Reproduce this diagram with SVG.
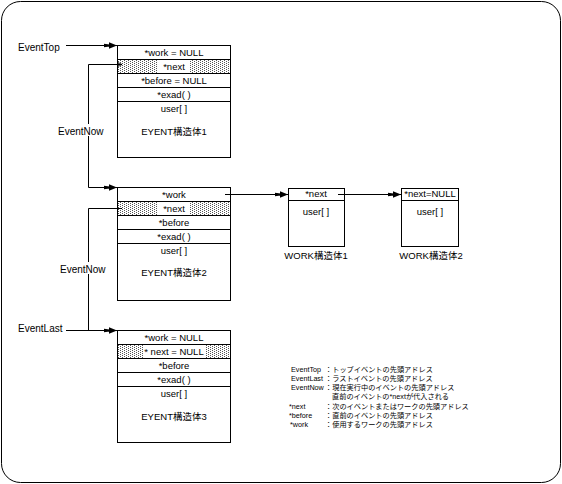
<svg xmlns="http://www.w3.org/2000/svg" width="562" height="484" viewBox="0 0 562 484">
<style>
text{font-family:"Liberation Sans","Noto Sans CJK JP",sans-serif;fill:#000}
.b{font-size:9.5px;text-anchor:middle}
.l{font-size:10px}
.g{font-size:7.2px}
.box{fill:#fff;stroke:#000;stroke-width:1}
.ln{fill:none;stroke:#000;stroke-width:1}
.hat{fill:url(#dots);stroke:#000;stroke-width:1}
.wb{fill:#fff}
</style>
<defs>
<pattern id="dots" width="4" height="2" patternUnits="userSpaceOnUse">
<rect width="4" height="2" fill="#fff"/>
<rect x="0" y="0" width="1" height="1" fill="#555"/>
<rect x="2" y="1" width="1" height="1" fill="#555"/>
</pattern>
<marker id="ah" markerUnits="userSpaceOnUse" markerWidth="14" markerHeight="8" viewBox="0 0 14 8" refX="13" refY="4" orient="auto">
<path d="M0,2.2 L13,4 L0,5.8 Z M5,0.8 L13,4 L5,7.2 Z" fill="#000"/>
</marker>
<marker id="sa" markerUnits="userSpaceOnUse" markerWidth="6" markerHeight="6" viewBox="0 0 6 6" refX="5" refY="3" orient="auto">
<path d="M1,1 L5,3 L1,5" fill="none" stroke="#000" stroke-width="0.8"/>
</marker>
</defs>
<rect x="1.5" y="1.5" width="559" height="481" rx="19" fill="#fff" stroke="#000" stroke-width="1"/>

<g id="event1">
<rect class="box" x="117.5" y="45.5" width="113" height="112"/>
<rect class="hat" x="117.5" y="59.5" width="113" height="14"/>
<rect class="wb" x="158" y="60" width="32" height="13"/>
<path class="ln" d="M117.5,87.5 H230.5 M117.5,101.5 H230.5"/>
<text class="b" x="174" y="56">*work = NULL</text>
<text class="b" x="174" y="70">*next</text>
<text class="b" x="174" y="84">*before = NULL</text>
<text class="b" x="174" y="98">*exad( )</text>
<text class="b" x="174" y="112">user[ ]</text>
<text class="b" x="174" y="135">EYENT構造体1</text>
</g>

<g id="event2">
<rect class="box" x="117.5" y="187.5" width="113" height="113"/>
<rect class="hat" x="117.5" y="201.5" width="113" height="14"/>
<rect class="wb" x="158" y="202" width="32" height="13"/>
<path class="ln" d="M117.5,229.5 H230.5 M117.5,243.5 H230.5"/>
<text class="b" x="174" y="198">*work</text>
<text class="b" x="174" y="212">*next</text>
<text class="b" x="174" y="226">*before</text>
<text class="b" x="174" y="240">*exad( )</text>
<text class="b" x="174" y="254">user[ ]</text>
<text class="b" x="174" y="276">EYENT構造体2</text>
</g>

<g id="event3">
<rect class="box" x="117.5" y="330.5" width="113" height="112"/>
<rect class="hat" x="117.5" y="344.5" width="113" height="14"/>
<rect class="wb" x="143" y="345" width="62" height="13"/>
<path class="ln" d="M117.5,372.5 H230.5 M117.5,386.5 H230.5"/>
<text class="b" x="174" y="341">*work = NULL</text>
<text class="b" x="174" y="355">* next  = NULL</text>
<text class="b" x="174" y="369">*before</text>
<text class="b" x="174" y="383">*exad( )</text>
<text class="b" x="174" y="397">user[ ]</text>
<text class="b" x="174" y="420">EYENT構造体3</text>
</g>

<g id="work1">
<rect class="box" x="288.5" y="188.5" width="56" height="58"/>
<path class="ln" d="M288.5,200.5 H344.5"/>
<text class="b" x="316" y="197">*next</text>
<text class="b" x="316" y="215">user[ ]</text>
<text class="b" x="316" y="259">WORK構造体1</text>
</g>

<g id="work2">
<rect class="box" x="401.5" y="188.5" width="57" height="58"/>
<path class="ln" d="M401.5,200.5 H458.5"/>
<text class="b" x="430" y="197">*next=NULL</text>
<text class="b" x="430" y="215">user[ ]</text>
<text class="b" x="431" y="259">WORK構造体2</text>
</g>

<g id="EventTop"><text class="l" x="18" y="51">EventTop</text></g>
<g id="EventLast"><text class="l" x="18" y="332">EventLast</text></g>

<g id="connectors">
<path class="ln" d="M66,45.5 H117" marker-end="url(#ah)"/>
<path class="ln" d="M66,330.5 H117" marker-end="url(#ah)"/>
<path class="ln" d="M88.5,187.5 V64.5 H122" marker-end="url(#sa)"/>
<path class="ln" d="M88.5,187.5 H117" marker-end="url(#ah)"/>
<path class="ln" d="M122,208.5 H88.5 V330.5"/>
<path class="ln" d="M225,194.5 H288" marker-end="url(#ah)"/>
<path class="ln" d="M338,194.5 H401" marker-end="url(#ah)"/>
<rect class="wb" x="56" y="124" width="47" height="12"/>
<rect class="wb" x="58" y="262" width="46" height="12"/>
<text class="l" x="58" y="135">EventNow</text>
<text class="l" x="60" y="273">EventNow</text>
</g>

<g id="legend">
<text class="g" x="291" y="372">EventTop</text><text class="g" x="325" y="372">：トップイベントの先頭アドレス</text>
<text class="g" x="291" y="381">EventLast</text><text class="g" x="325" y="381">：ラストイベントの先頭アドレス</text>
<text class="g" x="291" y="390">EventNow</text><text class="g" x="325" y="390">：現在実行中のイベントの先頭アドレス</text>
<text class="g" x="332" y="399">直前のイベントの*nextが代入される</text>
<text class="g" x="289" y="409">*next</text><text class="g" x="325" y="409">：次のイベントまたはワークの先頭アドレス</text>
<text class="g" x="289" y="418">*before</text><text class="g" x="325" y="418">：直前のイベントの先頭アドレス</text>
<text class="g" x="290" y="427">*work</text><text class="g" x="325" y="427">：使用するワークの先頭アドレス</text>
</g>
</svg>
